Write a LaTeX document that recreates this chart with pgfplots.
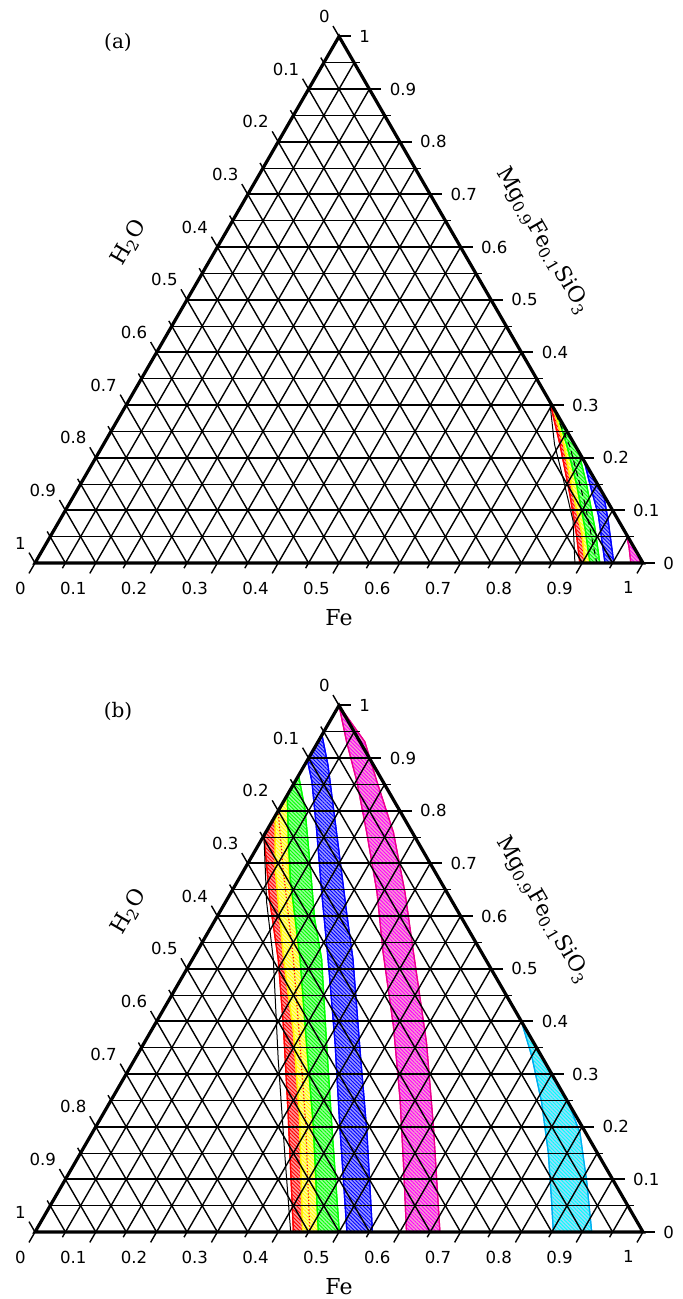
\documentclass[border=0pt]{standalone}
\usepackage{fontspec}
\setmainfont{DejaVu Serif}
\newfontfamily\numfont{DejaVu Sans}
\usepackage{pgfplots}
\pgfplotsset{compat=1.18}
\usetikzlibrary{patterns.meta}

% ternary (Fe, silicate) -> cartesian
\pgfplotsset{table/tern/.style={x expr=\thisrow{fe}+0.5*\thisrow{sil},y expr=0.8660254*\thisrow{sil}},
  band/.style={draw=#1,line width=0.6pt,fill=#1!40,
    postaction={pattern={Lines[angle=-45,distance=1.3pt,line width=0.45pt]},pattern color=#1}}}
\tikzset{tl/.style={font=\numfont\fontsize{8.3}{10}\selectfont,inner sep=0pt},
  ttl/.style={font=\fontsize{11}{13}\selectfont,inner sep=0pt}}

\newcommand\ternframe{%
  \pgfplotsinvokeforeach{1,...,19}{%
    \draw[line width=0.7pt] (axis cs:{##1/20},0) -- (axis cs:{0.5+##1/40},{0.8660254*(1-##1/20)});
    \draw[line width=0.7pt] (axis cs:{0.5-##1/40},{0.8660254*(1-##1/20)}) -- (axis cs:{1-##1/20},0);
  }%
  \pgfplotsinvokeforeach{1,3,...,19}{%
    \draw[line width=0.5pt] (axis cs:{##1/40},{0.8660254*##1/20}) -- (axis cs:{1-##1/40},{0.8660254*##1/20}) -- ++(0:3pt);
    \draw[line width=0.7pt] (axis cs:{##1/20},0) -- ++(240:3pt);
    \draw[line width=0.7pt] (axis cs:{0.5-##1/40},{0.8660254*(1-##1/20)}) -- ++(120:3pt);
  }%
  \pgfplotsinvokeforeach{0,2,...,20}{%
    \draw[line width=1pt] (axis cs:{##1/40},{0.8660254*##1/20}) -- (axis cs:{1-##1/40},{0.8660254*##1/20}) -- ++(0:6pt);
    \draw[line width=0.7pt] (axis cs:{##1/20},0) -- ++(240:6pt);
    \draw[line width=0.7pt] (axis cs:{0.5-##1/40},{0.8660254*(1-##1/20)}) -- ++(120:6pt);
  }%
  \pgfplotsinvokeforeach{1,...,9}{%
    \path (axis cs:{1-##1/20},{0.8660254*##1/10}) ++(0:6pt) node[tl,anchor=west,xshift=4pt]{0.##1};
    \path (axis cs:{##1/10},0) ++(240:6pt) node[tl,anchor=north east,xshift=-1.5pt,yshift=-4pt]{0.##1};
    \path (axis cs:{0.5-##1/20},{0.8660254*(1-##1/10)}) ++(120:6pt) node[tl,anchor=south east,xshift=-1.5pt,yshift=1.5pt]{0.##1};
  }%
  \path (axis cs:0.5,0.8660254) ++(0:6pt) node[tl,anchor=west,xshift=4pt]{1};
  \path (axis cs:0.5,0.8660254) ++(120:6pt) node[tl,anchor=south east,xshift=-1.5pt,yshift=1.5pt]{0};
  \path (axis cs:0,0) ++(120:6pt) node[tl,anchor=south east,xshift=-1.5pt,yshift=1.5pt]{1};
  \path (axis cs:0,0) ++(240:6pt) node[tl,anchor=north east,xshift=-1.5pt,yshift=-4pt]{0};
  \path (axis cs:1,0) ++(240:6pt) node[tl,anchor=north east,xshift=-1.5pt,yshift=-4pt]{1};
  \path (axis cs:1,0) ++(0:6pt) node[tl,anchor=west,xshift=4pt]{0};
  \draw[line width=1.6pt] (axis cs:0,0) -- (axis cs:1,0) -- (axis cs:0.5,0.8660254) -- cycle;
  \node[ttl] at (axis cs:0.5,0) [yshift=-27.25pt] {Fe};
  \node[ttl,rotate=60] at (axis cs:0.1546,0.5263) {H\textsubscript{2}O};
  \node[ttl,rotate=-60] at (axis cs:0.8355,0.5296) {Mg\textsubscript{0.9}Fe\textsubscript{0.1}SiO\textsubscript{3}};
}

\begin{document}
\begin{tikzpicture}
\useasboundingbox (0,0) rectangle (341.5pt,-649.5pt);

% ---------- (a) ----------
\begin{axis}[at={(17.5pt,-281.5pt)},anchor=south west,scale only axis,width=304pt,height=263.272pt,
  xmin=0,xmax=1,ymin=0,ymax=0.8660254,hide axis,clip=false]
\addplot[band=red] table[tern,row sep=\\] {fe sil\\ 0.693 0.307\\ 0.751 0.2248\\ 0.815 0.1295\\ 0.864 0.0533\\ 0.896 0\\
  0.906 0\\ 0.874 0.055\\ 0.824 0.130\\ 0.762 0.225\\ 0.705 0.295\\} -- cycle;
\addplot[band=yellow] table[tern,row sep=\\] {fe sil\\ 0.705 0.295\\ 0.757 0.2248\\ 0.8206 0.1295\\ 0.872 0.055\\ 0.9046 0\\
  0.9128 0\\ 0.880 0.055\\ 0.829 0.1295\\ 0.765 0.2248\\ 0.712 0.288\\} -- cycle;
\addplot[band=green] table[tern,row sep=\\] {fe sil\\ 0.718 0.282\\ 0.762 0.2248\\ 0.8167 0.1486\\ 0.8716 0.066\\ 0.9128 0\\
  0.929 0\\ 0.888 0.066\\ 0.833 0.1486\\ 0.788 0.212\\} -- cycle;
\addplot[band=blue] table[tern,row sep=\\] {fe sil\\ 0.807 0.193\\ 0.8385 0.1486\\ 0.8808 0.0914\\ 0.9375 0\\
  0.952 0\\ 0.9036 0.0787\\ 0.8705 0.1295\\} -- cycle;
\addplot[band=magenta] table[tern,row sep=\\] {fe sil\\ 0.945 0.055\\ 0.962 0.030\\ 0.980 0\\ 0.994 0\\ 0.990 0.010\\} -- cycle;
\addplot[black,line width=0.5pt] table[tern,row sep=\\] {fe sil\\ 0.693 0.307\\ 0.742 0.225\\ 0.788 0.161\\ 0.845 0.08\\ 0.888 0\\};
\addplot[black,line width=0.5pt,densely dashed] table[tern,row sep=\\] {fe sil\\ 0.70 0.30\\ 0.769 0.2215\\ 0.85 0.11\\ 0.924 0\\};
\ternframe
\node[font=\fontsize{10}{12}\selectfont,inner sep=0pt] at (axis cs:0.1365,0.8569) {(a)};
\end{axis}

% ---------- (b) ----------
\begin{axis}[at={(17.5pt,-616pt)},anchor=south west,scale only axis,width=304pt,height=263.272pt,
  xmin=0,xmax=1,ymin=0,ymax=0.8660254,hide axis,clip=false]
\addplot[band=red] table[tern,row sep=\\] {fe sil\\ 0 0.800\\ 0.055 0.690\\ 0.155 0.518\\ 0.240 0.380\\ 0.330 0.220\\ 0.445 0\\
  0.425 0\\ 0.300 0.232\\ 0.213 0.391\\ 0.141 0.518\\ 0.0735 0.626\\ 0 0.753\\} -- cycle;
\addplot[band=yellow] table[tern,row sep=\\] {fe sil\\ 0 0.830\\ 0.040 0.753\\ 0.072 0.690\\ 0.177 0.518\\ 0.267 0.359\\ 0.3575 0.2006\\ 0.466 0\\
  0.440 0\\ 0.325 0.220\\ 0.235 0.380\\ 0.150 0.518\\ 0.050 0.690\\ 0 0.790\\} -- cycle;
\addplot[red,line width=0.6pt,densely dotted] table[tern,row sep=\\] {fe sil\\ 0 0.80\\ 0.063 0.69\\ 0.166 0.518\\ 0.25 0.37\\ 0.34 0.21\\ 0.452 0\\};
\addplot[band=green] table[tern,row sep=\\] {fe sil\\ 0 0.867\\ 0.042 0.804\\ 0.108 0.690\\ 0.163 0.594\\ 0.2125 0.518\\ 0.300 0.359\\ 0.388 0.2006\\ 0.5005 0\\
  0.466 0\\ 0.3575 0.2006\\ 0.267 0.359\\ 0.177 0.518\\ 0.131 0.594\\ 0.085 0.670\\ 0.040 0.753\\ 0 0.830\\} -- cycle;
\addplot[band=blue] table[tern,row sep=\\] {fe sil\\ 0 0.944\\ 0.039 0.886\\ 0.089 0.804\\ 0.147 0.709\\ 0.209 0.607\\ 0.264 0.518\\ 0.361 0.347\\ 0.452 0.188\\ 0.555 0\\
  0.513 0\\ 0.401 0.2006\\ 0.314 0.359\\ 0.223 0.518\\ 0.149 0.645\\ 0.084 0.759\\ 0.028 0.855\\ 0 0.896\\} -- cycle;
\addplot[band=magenta] table[tern,row sep=\\] {fe sil\\ 0 1\\ 0.047 0.931\\ 0.102 0.855\\ 0.166 0.759\\ 0.240 0.645\\ 0.307 0.531\\ 0.394 0.391\\ 0.475 0.251\\ 0.541 0.130\\ 0.611 0\\
  0.666 0\\ 0.555 0.2006\\ 0.4645 0.359\\ 0.357 0.531\\ 0.286 0.645\\ 0.210 0.759\\ 0.135 0.855\\ 0.077 0.931\\} -- cycle;
\addplot[band=cyan] table[tern,row sep=\\] {fe sil\\ 0.600 0.400\\ 0.650 0.334\\ 0.7105 0.2457\\ 0.769 0.1505\\ 0.819 0.061\\ 0.8525 0\\
  0.9156 0\\ 0.861 0.0933\\ 0.802 0.1886\\ 0.755 0.245\\} -- cycle;
\addplot[cyan,line width=0.6pt,densely dotted] table[tern,row sep=\\] {fe sil\\ 0.9156 0\\ 1 0\\};
\addplot[black,line width=0.5pt] table[tern,row sep=\\] {fe sil\\ 0 0.753\\ 0.068 0.626\\ 0.133 0.518\\ 0.236 0.328\\ 0.343 0.137\\ 0.4205 0\\};
\ternframe
\node[font=\fontsize{10}{12}\selectfont,inner sep=0pt] at (axis cs:0.1365,0.8569) {(b)};
\end{axis}
\end{tikzpicture}
\end{document}
